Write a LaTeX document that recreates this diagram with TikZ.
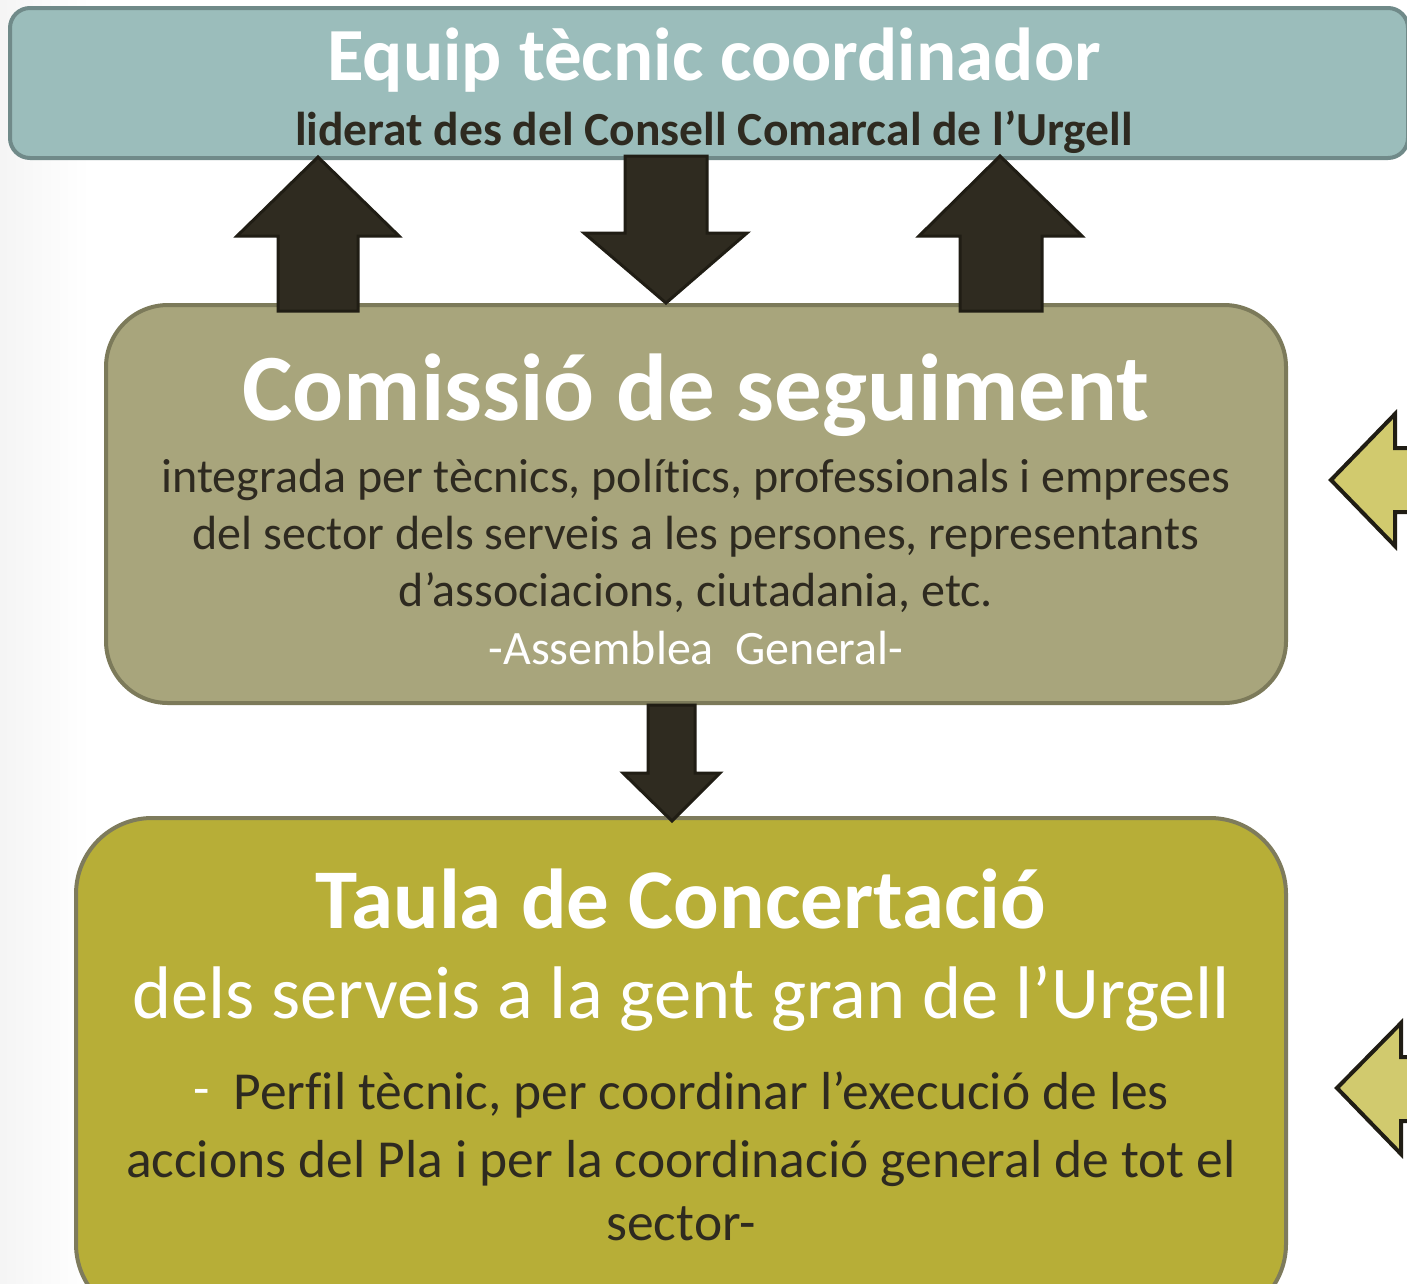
\documentclass[tikz,border=0pt]{standalone}
\usepackage{fontspec}
\setmainfont{Carlito}[Ligatures={NoCommon}]
\definecolor{tealfill}{HTML}{9BBDBB}
\definecolor{tealdraw}{HTML}{708A89}
\definecolor{olivefill}{HTML}{A8A57C}
\definecolor{olivedraw}{HTML}{7C7A5A}
\definecolor{mustfill}{HTML}{B7AE37}
\definecolor{mustdraw}{HTML}{7E7B5C}
\definecolor{darkfill}{HTML}{2F2B20}
\definecolor{darkdraw}{HTML}{201D14}
\definecolor{yelfill}{HTML}{D1CA6E}
\definecolor{textdark}{HTML}{2E2A20}
\tikzset{
  bigarrow/.style={fill=darkfill, draw=darkdraw, line width=3pt, line join=miter},
  sidearrow/.style={fill=yelfill, draw=darkdraw, line width=4pt, line join=miter},
  txt/.style={anchor=base, inner sep=0pt, outer sep=0pt},
}
\begin{document}
\begin{tikzpicture}[x=1pt,y=-1pt]
\useasboundingbox (0,0) rectangle (1407,1283);
\clip (0,0) rectangle (1407,1283);
% faint background shading at left
\fill[left color=black!4, right color=white] (0,0) rectangle (90,1283);
\fill[white] (90,0) rectangle (1407,1283);

% boxes
\draw[fill=tealfill, draw=tealdraw, line width=4pt, rounded corners=20pt]
  (10,8) rectangle (1408,158);
\node[coordinate] (equip) at (709,82) {};
\draw[fill=olivefill, draw=olivedraw, line width=4pt, rounded corners=62pt]
  (106,305) rectangle (1286,703);
\node[coordinate] (comissio) at (696,504) {};
\draw[fill=mustfill, draw=mustdraw, line width=4pt, rounded corners=76pt]
  (76,818) rectangle (1286,1320);
\node[coordinate] (taula) at (681,1060) {};

% vertical block arrows
\draw[bigarrow] (318,157) -- (399,236) -- (358,236) -- (358,311) -- (278,311) -- (278,236) -- (237,236) -- cycle;
\draw[bigarrow] (625,156) -- (707,156) -- (707,233) -- (747,233) -- (666,303) -- (584,233) -- (625,233) -- cycle;
\draw[bigarrow] (1000,156) -- (1082,236) -- (1042,236) -- (1042,311) -- (960,311) -- (960,236) -- (919,236) -- cycle;
\draw[bigarrow] (648,705) -- (695,705) -- (695,773) -- (720,773) -- (672,821) -- (623,773) -- (648,773) -- cycle;

% side arrows (cut off at right)
\draw[sidearrow] (1331,480) -- (1395,414) -- (1395,448) -- (1430,448) -- (1430,512) -- (1395,512) -- (1395,546) -- cycle;
\draw[sidearrow] (1337,1088) -- (1401,1023) -- (1401,1057) -- (1430,1057) -- (1430,1121) -- (1401,1121) -- (1401,1154) -- cycle;

% texts
\node[txt, text=white, font=\bfseries\fontsize{75}{82}\selectfont] (t1) at (714,80) {Equip tècnic coordinador};
\node[txt, text=textdark, font=\bfseries\fontsize{47.5}{54}\selectfont] (t2) at (714,145) {liderat des del Consell Comarcal de l’Urgell};

\node[txt, text=white, font=\bfseries\fontsize{95}{104}\selectfont] (c1) at (696,420) {Comissió de seguiment};
\node[txt, text=textdark, font=\fontsize{48}{56}\selectfont] (c2) at (696,492) {integrada per tècnics, polít\kern0pt ics, professionals i empreses};
\node[txt, text=textdark, font=\fontsize{48}{56}\selectfont] (c3) at (696,549) {del sector dels serveis a les persones, representants};
\node[txt, text=textdark, font=\fontsize{48}{56}\selectfont] (c4) at (696,606) {d’associacions, ciutadania, etc.};
\node[txt, text=white, font=\fontsize{48}{56}\selectfont] (c5) at (696,664) {-Assemblea\ \ General-};

\node[txt, text=white, font=\bfseries\fontsize{85}{94}\selectfont] (u1) at (681,928) {Taula de Concertació};
\node[txt, text=white, font=\fontsize{74.5}{82}\selectfont] (u2) at (681,1018) {dels serveis a la gent gran de l’Urgell};
\node[txt, text=textdark, font=\fontsize{53.5}{60}\selectfont] (u3) at (681,1109) {\textcolor{white}{\raisebox{3pt}{-}}\ \ Perf\kern0pt il tècnic, per coordinar l’execució de les};
\node[txt, text=textdark, font=\fontsize{53.5}{60}\selectfont] (u4) at (681,1177) {accions del Pla i per la coordinació general de tot el};
\node[txt, text=textdark, font=\fontsize{53.5}{60}\selectfont] (u5) at (681,1240) {sector-};
\end{tikzpicture}
\end{document}
